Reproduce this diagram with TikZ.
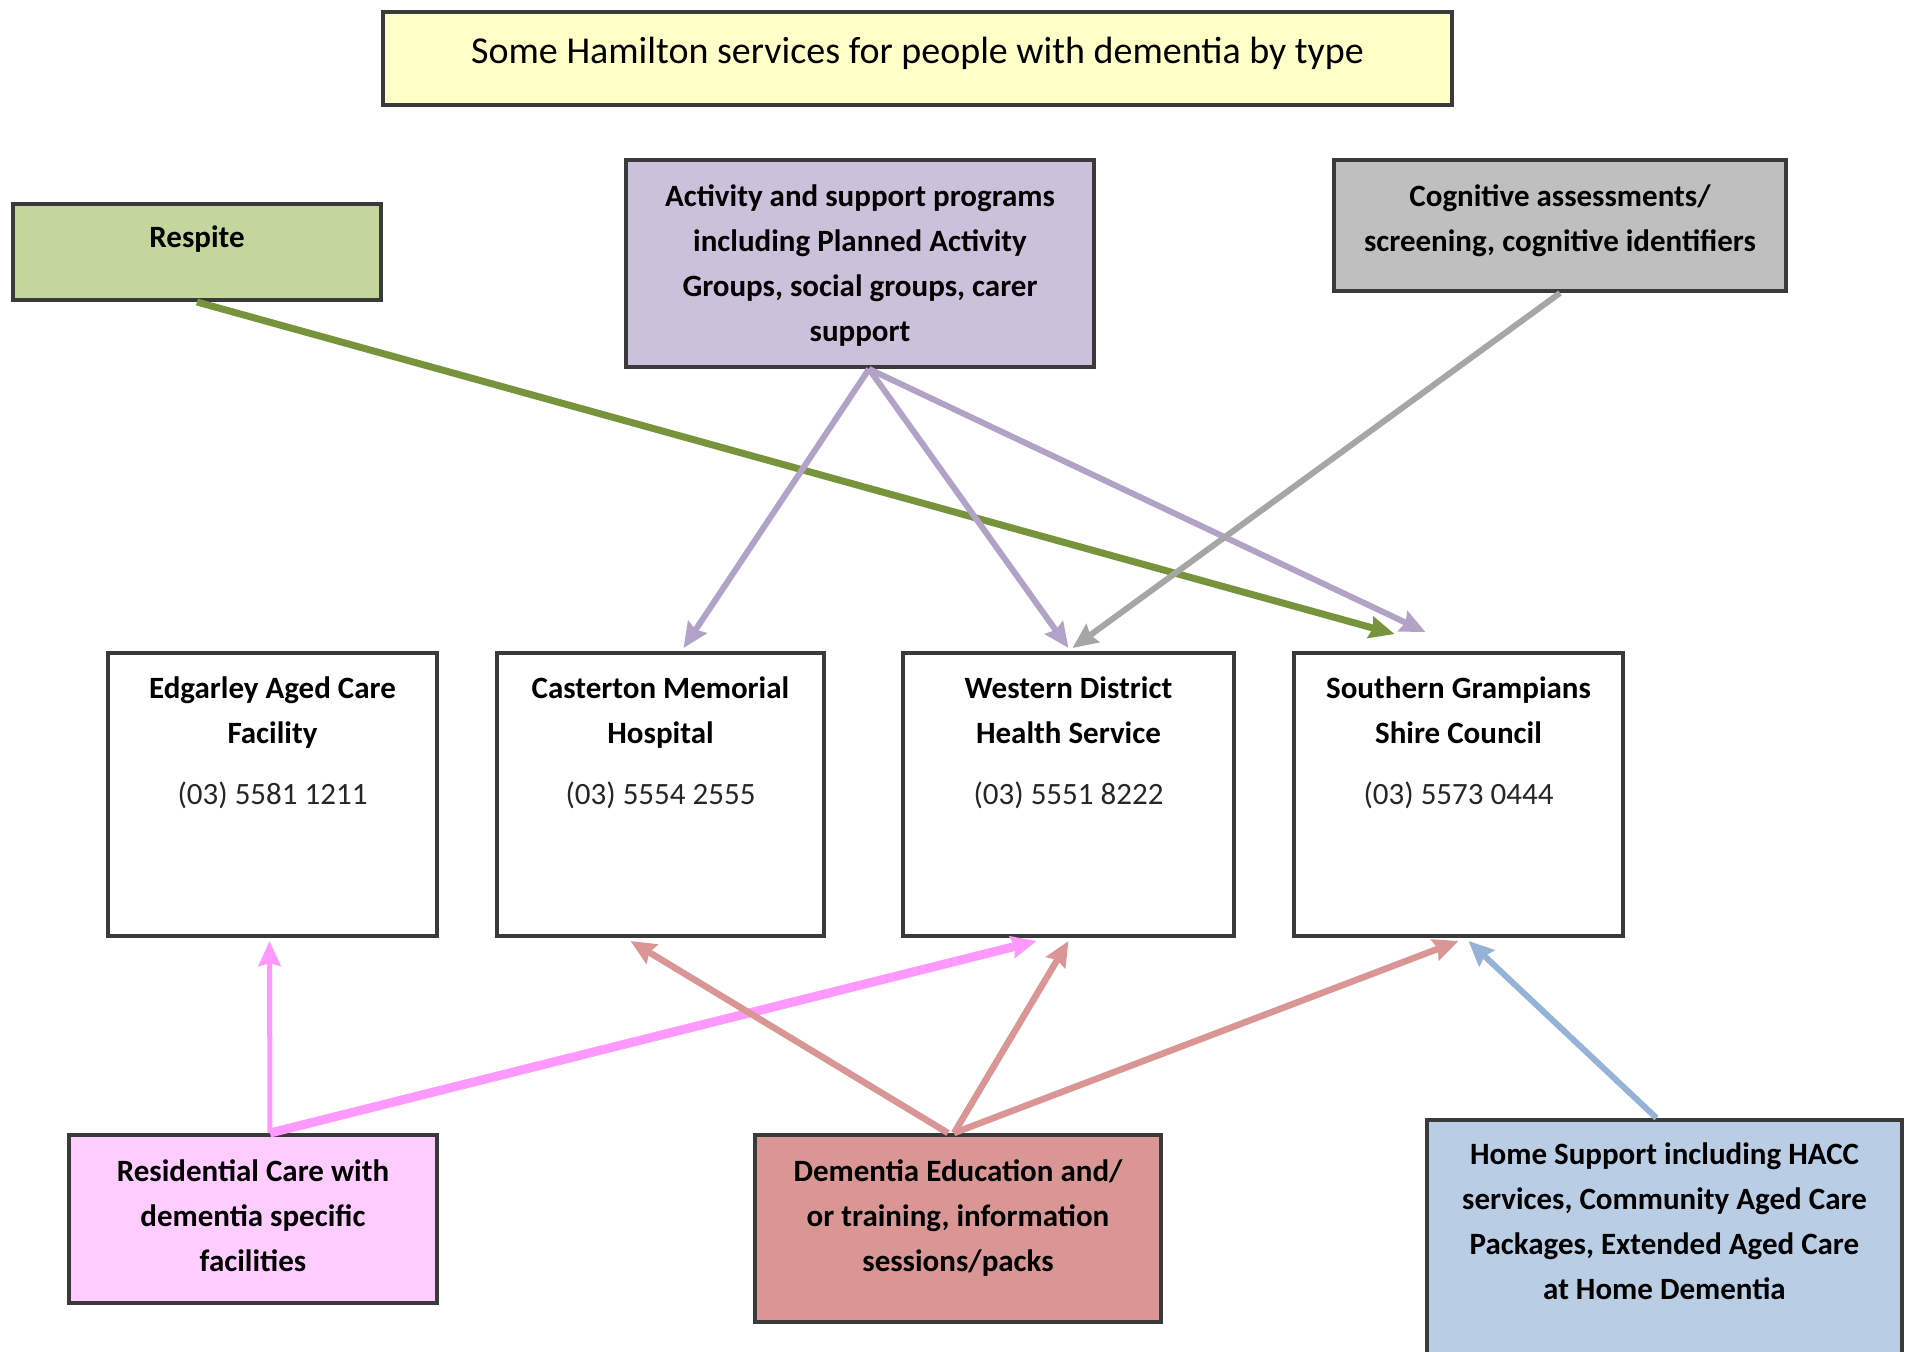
\documentclass[tikz,border=0pt]{standalone}
\usepackage{fontspec}
\setmainfont{Carlito}
\usetikzlibrary{arrows.meta,calc}
\definecolor{boxline}{HTML}{3A3A3A}
\definecolor{titlefill}{HTML}{FFFFC8}
\definecolor{respfill}{HTML}{C3D69B}
\definecolor{actfill}{HTML}{CCC1DA}
\definecolor{cogfill}{HTML}{BFBFBF}
\definecolor{resfill}{HTML}{FFCCFF}
\definecolor{dedfill}{HTML}{D99694}
\definecolor{homefill}{HTML}{B9CDE5}
\definecolor{agreen}{HTML}{77933C}
\definecolor{alav}{HTML}{B3A2C7}
\definecolor{agray}{HTML}{A6A6A6}
\definecolor{apink}{HTML}{FF99FF}
\definecolor{arose}{HTML}{D99694}
\definecolor{ablue}{HTML}{95B3D7}
\newcommand{\boxfont}{\fontsize{31pt}{45pt}\selectfont\bfseries}
\newcommand{\phonefont}{\fontsize{31pt}{45pt}\selectfont\mdseries\color{black!85}}
\newcommand{\titlefont}{\fontsize{38pt}{45pt}\selectfont\mdseries}
% #1 width, #2 height, #3 font, #4 first-baseline offset, #5 text
\newcommand{\boxtxt}[5]{\begin{minipage}[c][#2][t]{#1}\centering#3\rule{0pt}{#4}#5\end{minipage}}
\begin{document}
\begin{tikzpicture}[x=1pt,y=-1pt,
  box/.style={draw=boxline, line width=4pt, inner sep=0pt, anchor=north west},
  arrowbase/.style={-{Stealth[length=25pt,width=22pt,inset=3pt]}},
  garr/.style={arrowbase, draw=agreen, line width=7pt},
  larr/.style={arrowbase, draw=alav, line width=6pt},
  grarr/.style={arrowbase, draw=agray, line width=6pt},
  parr/.style={arrowbase, draw=apink},
  rarr/.style={arrowbase, draw=arose, line width=6.5pt},
  barr/.style={arrowbase, draw=ablue, line width=6pt}]
\fill[white] (0,0) rectangle (1907,1352);
\useasboundingbox (0,0) rectangle (1907,1352);

\node[box, fill=titlefill] (title) at (381,10)
  {\boxtxt{1069pt}{93pt}{\titlefont}{51pt}{Some Hamilton services for people with dementia by type}};
\node[box, fill=respfill] (resp) at (11,202)
  {\boxtxt{368pt}{96pt}{\boxfont}{43pt}{Respite}};
\node[box, fill=actfill] (act) at (624,158)
  {\boxtxt{468pt}{207pt}{\boxfont}{46pt}{Activity and support programs\\ including Planned Activity\\ Groups, social groups, carer\\ support}};
\node[box, fill=cogfill] (cog) at (1332,158)
  {\boxtxt{452pt}{131pt}{\boxfont}{46pt}{Cognitive assessments/\\ screening, cognitive identifiers}};

\node[box, fill=white] (edg) at (106,651)
  {\boxtxt{329pt}{283pt}{\boxfont}{45pt}{Edgarley Aged Care\\ Facility\\[16pt] {\phonefont (03) 5581 1211}}};
\node[box, fill=white] (cast) at (495,651)
  {\boxtxt{327pt}{283pt}{\boxfont}{45pt}{Casterton Memorial\\ Hospital\\[16pt] {\phonefont (03) 5554 2555}}};
\node[box, fill=white] (wdhs) at (901,651)
  {\boxtxt{331pt}{283pt}{\boxfont}{45pt}{Western District\\ Health Service\\[16pt] {\phonefont (03) 5551 8222}}};
\node[box, fill=white] (sgsc) at (1292,651)
  {\boxtxt{329pt}{283pt}{\boxfont}{45pt}{Southern Grampians\\ Shire Council\\[16pt] {\phonefont (03) 5573 0444}}};

\node[box, fill=resfill] (res) at (67,1133)
  {\boxtxt{368pt}{168pt}{\boxfont}{46pt}{Residential Care with\\ dementia specific\\ facilities}};
\node[box, fill=dedfill] (ded) at (753,1133)
  {\boxtxt{406pt}{187pt}{\boxfont}{46pt}{Dementia Education and/\\ or training, information\\ sessions/packs}};
\node[box, fill=homefill] (home) at (1425,1118)
  {\boxtxt{475pt}{280pt}{\boxfont}{44pt}{Home Support including HACC\\ services, Community Aged Care\\ Packages, Extended Aged Care\\ at Home Dementia}};

% connectors
\draw[garr] (resp.south) -- ([xshift=-64pt,yshift=17pt]sgsc.north);
\draw[larr] ([xshift=9pt]act.south) -- ([xshift=23pt,yshift=3pt]cast.north);
\draw[larr] ([xshift=9pt]act.south) -- ([yshift=3pt]wdhs.north);
\draw[larr] ([xshift=9pt]act.south) -- ([xshift=-33pt,yshift=19pt]sgsc.north);
\draw[grarr] (cog.south) -- ([xshift=4pt,yshift=3pt]wdhs.north);
\draw[parr, line width=5pt] ([xshift=17pt]res.north) -- ([xshift=-3pt,yshift=-3pt]edg.south);
\draw[parr, line width=9pt] ([xshift=17pt]res.north) -- ([xshift=-32pt,yshift=-3pt]wdhs.south);
\draw[rarr] ([xshift=-10pt]ded.north) -- ([xshift=-30pt,yshift=-3pt]cast.south);
\draw[rarr] ([xshift=-4pt]ded.north) -- ([yshift=-3pt]wdhs.south);
\draw[rarr] ([xshift=-4pt]ded.north) -- ([yshift=-3pt]sgsc.south);
\draw[barr] ([xshift=-8pt]home.north) -- ([xshift=10pt,yshift=-3pt]sgsc.south);
\end{tikzpicture}
\end{document}
